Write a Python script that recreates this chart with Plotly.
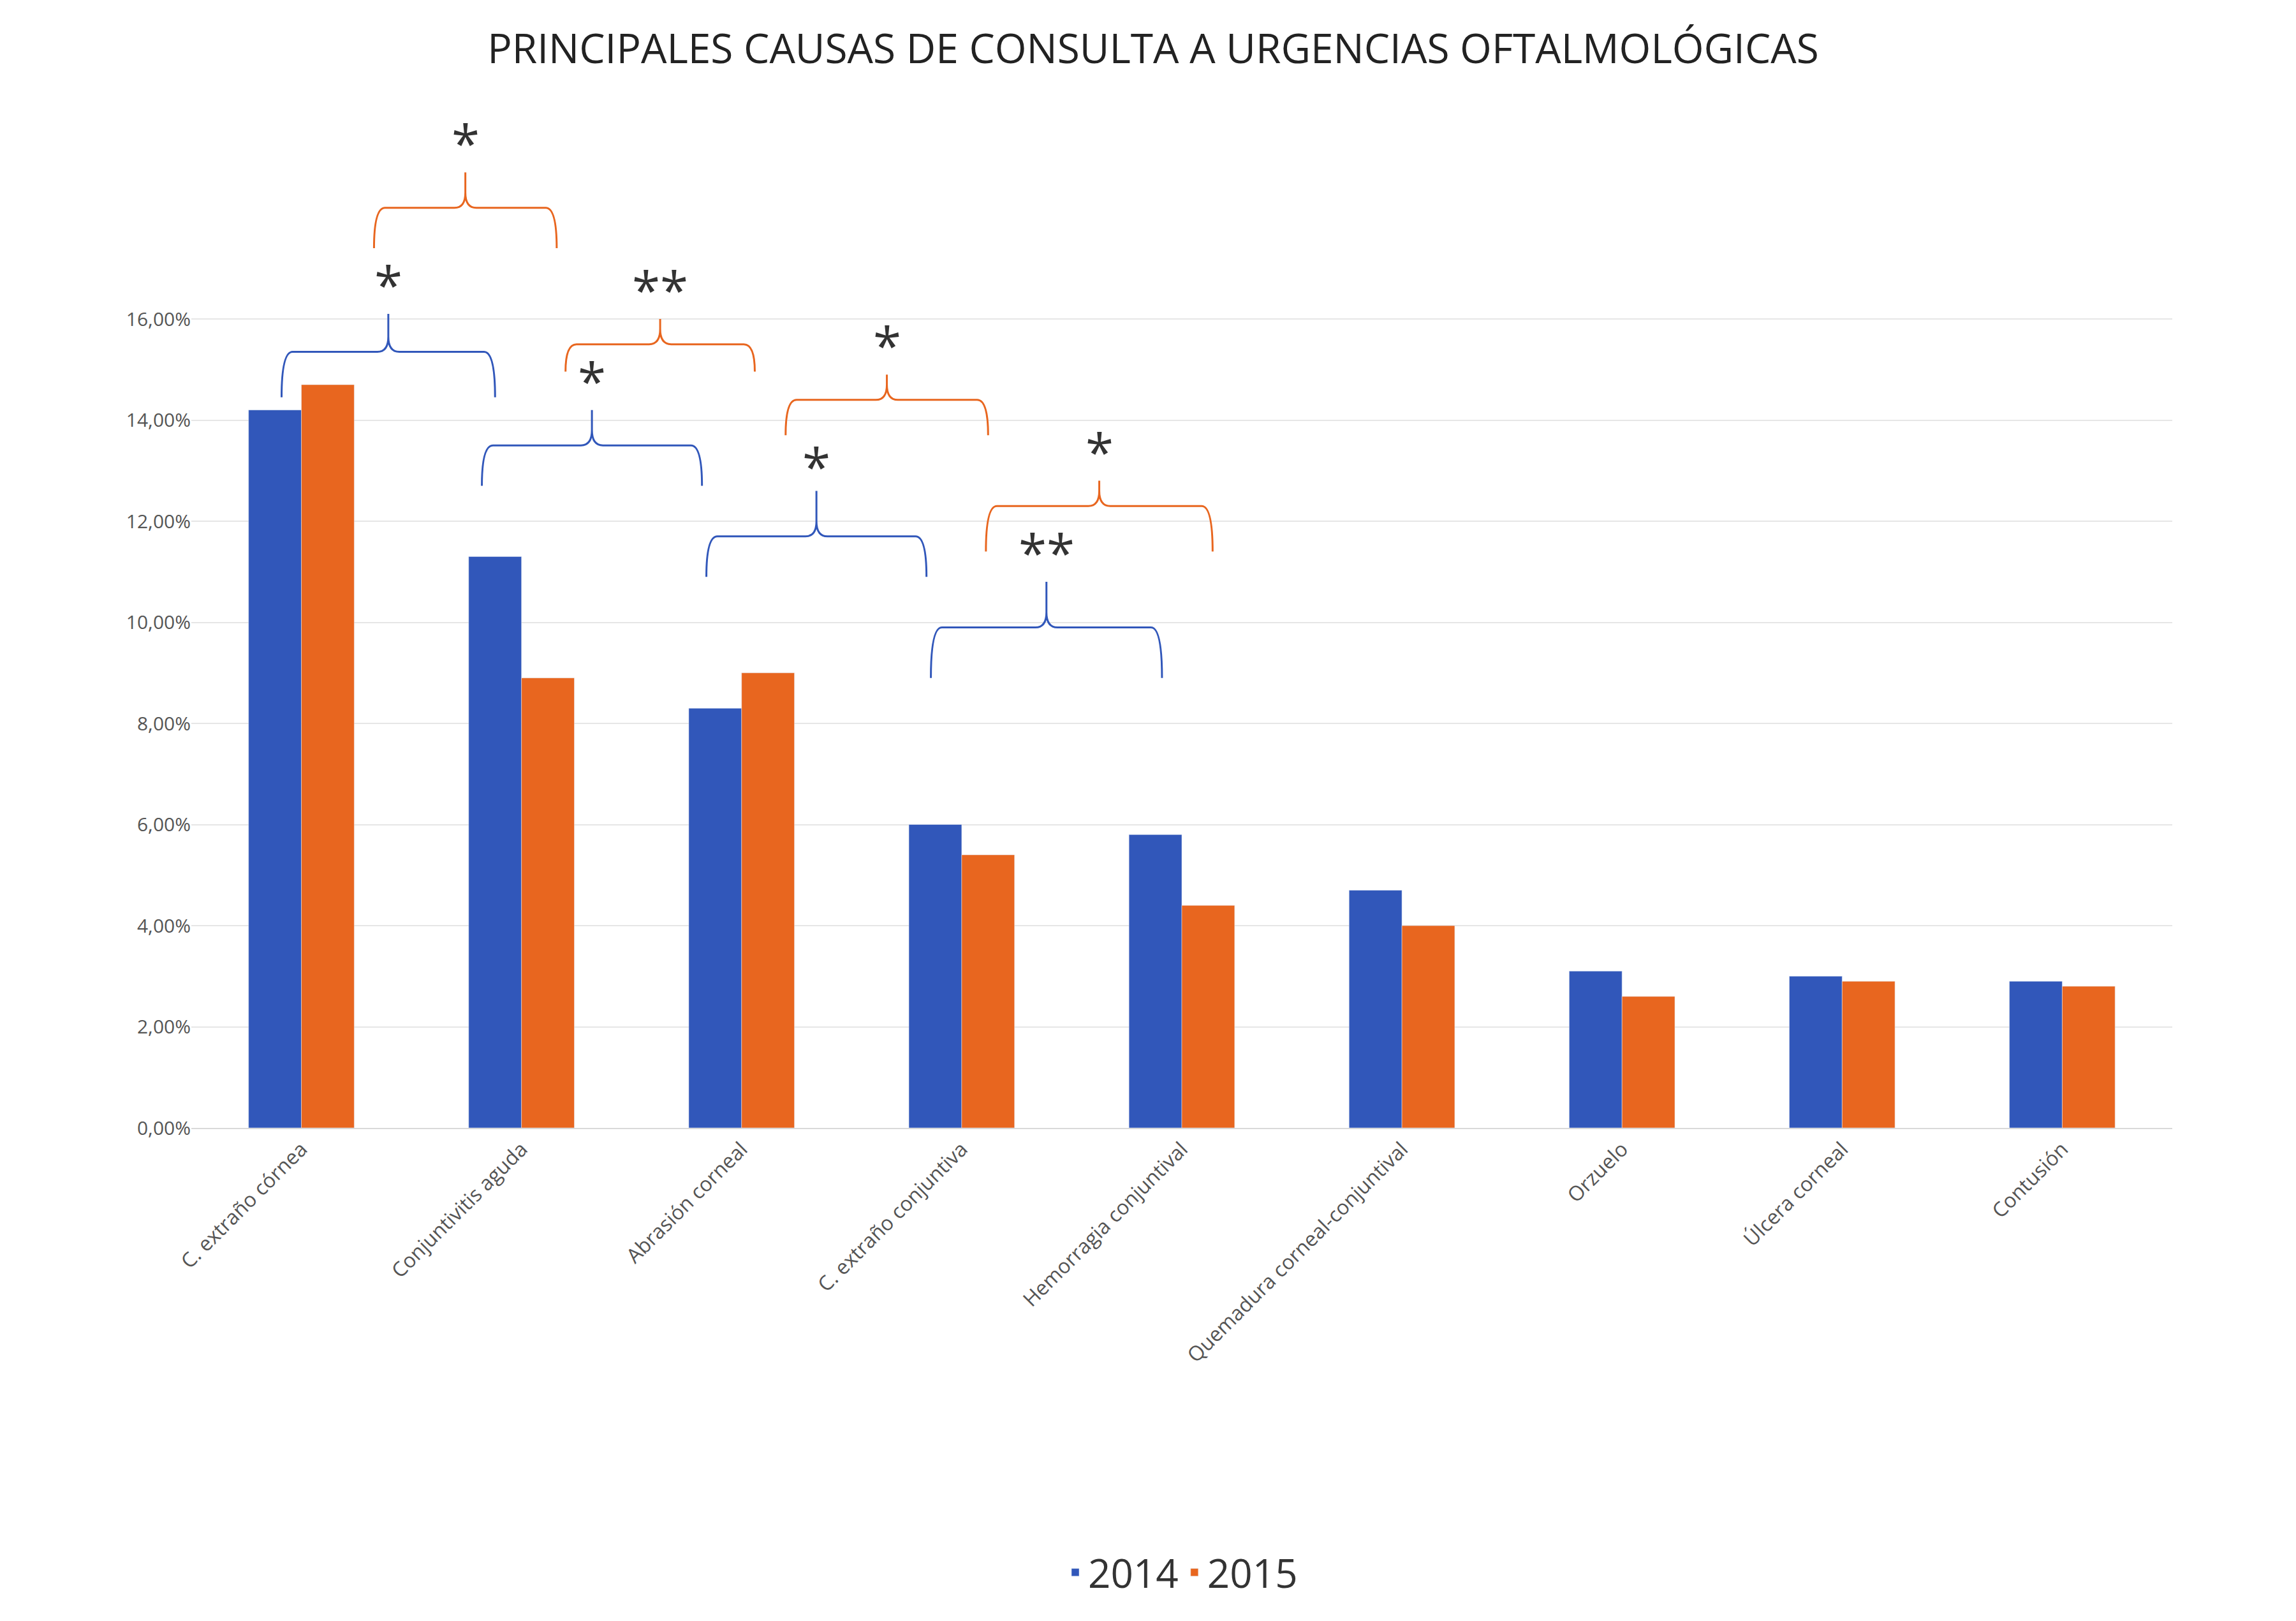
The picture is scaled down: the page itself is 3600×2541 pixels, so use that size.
import plotly.graph_objects as go

categorias = ["C. extraño córnea", "Conjuntivitis aguda", "Abrasión corneal",
              "C. extraño conjuntiva", "Hemorragia conjuntival",
              "Quemadura corneal-conjuntival", "Orzuelo", "Úlcera corneal", "Contusión"]
v2014 = [14.2, 11.3, 8.3, 6.0, 5.8, 4.7, 3.1, 3.0, 2.9]
v2015 = [14.7, 8.9, 9.0, 5.4, 4.4, 4.0, 2.6, 2.9, 2.8]

azul = "#3157BA"
naranja = "#E8661F"

# llaves de significación: x inicio, x fin, y puntas, y barra, y pico, y texto, etiqueta, color
llaves = [
    (-0.09, 0.88, 14.45, 15.35, 16.1, 16.7, "*", azul),
    (0.82, 1.82, 12.7, 13.5, 14.2, 14.8, "*", azul),
    (1.84, 2.84, 10.9, 11.7, 12.6, 13.1, "*", azul),
    (2.86, 3.91, 8.9, 9.9, 10.8, 11.4, "**", azul),
    (0.33, 1.16, 17.4, 18.2, 18.9, 19.5, "*", naranja),
    (1.20, 2.06, 14.96, 15.5, 16.0, 16.6, "**", naranja),
    (2.20, 3.12, 13.7, 14.4, 14.9, 15.5, "*", naranja),
    (3.11, 4.14, 11.4, 12.3, 12.8, 13.4, "*", naranja),
]

x = list(range(len(categorias)))
fig = go.Figure()
fig.add_trace(go.Bar(x=x, y=v2014, name="2014", marker_color=azul))
fig.add_trace(go.Bar(x=x, y=v2015, name="2015", marker_color=naranja))

for x0, x1, yt, yh, yp, ys, txt, col in llaves:
    xm = (x0 + x1) / 2
    r, ry = 0.05, 0.3
    path = (f"M {x0},{yt} Q {x0},{yh} {x0 + r},{yh} L {xm - r},{yh} "
            f"Q {xm},{yh} {xm},{yh + ry} L {xm},{yp} "
            f"M {xm},{yh + ry} Q {xm},{yh} {xm + r},{yh} L {x1 - r},{yh} "
            f"Q {x1},{yh} {x1},{yt}")
    fig.add_shape(type="path", path=path, xref="x", yref="y",
                  line=dict(color=col, width=3))
    fig.add_annotation(x=xm, y=ys, text=txt, showarrow=False, xref="x", yref="y",
                       font=dict(size=80, color="#333333"), yanchor="middle")

ticks = [0, 2, 4, 6, 8, 10, 12, 14, 16]
fig.update_layout(
    width=3600, height=2541,
    paper_bgcolor="white", plot_bgcolor="white",
    title=dict(text="PRINCIPALES CAUSAS DE CONSULTA A URGENCIAS OFTALMOLÓGICAS",
               x=0.5, y=0.982, font=dict(size=64, color="#222222", family="Open Sans")),
    font=dict(family="Open Sans", color="#555555"),
    barmode="group", bargap=0.52, bargroupgap=0,
    margin=dict(l=292, r=202, t=175, b=781),
    legend=dict(orientation="h", x=0.5, xanchor="center", y=-0.41,
                font=dict(size=62, color="#333333")),
    showlegend=True,
)
fig.update_xaxes(range=[-0.5, 8.5], tickvals=x, ticktext=categorias, tickangle=-45,
                 tickfont=dict(size=32, color="#555555"), showgrid=False,
                 showline=True, linecolor="#d9d9d9", linewidth=2)
fig.update_yaxes(range=[0, 20], tickvals=ticks,
                 ticktext=[f"{t},00%" for t in ticks],
                 tickfont=dict(size=30, color="#555555"),
                 gridcolor="#e6e6e6", gridwidth=2, zeroline=False)

fig.write_html("out.html")
